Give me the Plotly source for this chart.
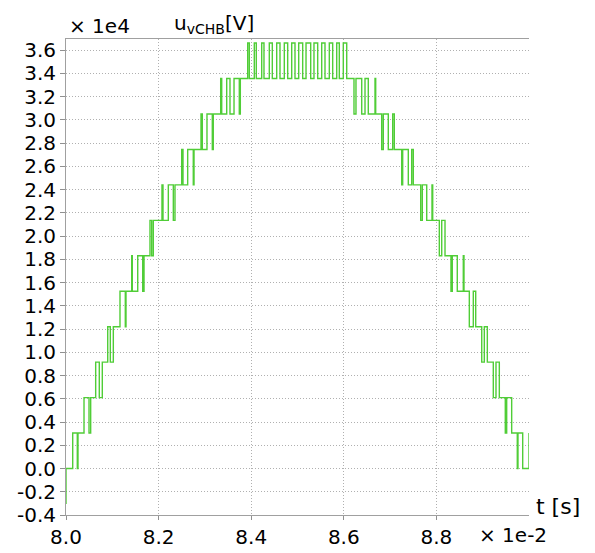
import plotly.graph_objects as go

# switching instants [ms] and inverter level index after each instant
t_ms = [80.000, 80.000, 80.145, 80.244, 80.259, 80.389, 80.497, 80.533, 80.641, 80.719,
        80.784, 80.901, 80.957, 81.022, 81.166, 81.281, 81.296, 81.419, 81.432, 81.549,
        81.657, 81.685, 81.814, 81.851, 81.886, 82.073, 82.095, 82.210, 82.318, 82.354,
        82.499, 82.527, 82.628, 82.749, 82.765, 82.916, 82.944, 83.045, 83.160, 83.181,
        83.341, 83.363, 83.471, 83.542, 83.629, 83.743, 83.765,
        83.924, 83.959, 84.067, 84.110, 84.227, 84.276, 84.391, 84.456, 84.551, 84.622,
        84.715, 84.788, 84.875, 84.946, 85.026, 85.112, 85.184, 85.285, 85.356, 85.436,
        85.523, 85.594, 85.687, 85.760, 85.847, 85.903, 85.989, 86.063,
        86.220, 86.263, 86.387, 86.458, 86.529, 86.674, 86.689, 86.819, 86.853, 86.961,
        87.056, 87.091, 87.251, 87.272, 87.393, 87.467, 87.501, 87.661, 87.696, 87.791,
        87.905, 87.920, 88.063, 88.115, 88.186, 88.315, 88.343, 88.451, 88.581, 88.596,
        88.711, 88.797, 88.849, 88.979, 89.035, 89.100, 89.229, 89.287, 89.359, 89.488,
        89.518, 89.626, 89.747, 89.762, 89.864, 90.000]
level = [-1, 0, 1, 0, 1, 2, 1, 2, 3, 2,
         3, 4, 3, 4, 5, 4, 5, 6, 5, 6,
         5, 6, 7, 6, 7, 8, 7, 8, 7, 8,
         9, 8, 9, 8, 9, 10, 9, 10, 9, 10,
         11, 10, 11, 10, 11, 10, 11,
         12, 11, 12, 11, 12, 11, 12, 11, 12, 11,
         12, 11, 12, 11, 12, 11, 12, 11, 12, 11,
         12, 11, 12, 11, 12, 11, 12, 11,
         10, 11, 10, 11, 10, 11, 10, 9, 10, 9,
         10, 9, 8, 9, 8, 9, 8, 7, 8, 7,
         8, 7, 6, 7, 6, 5, 6, 5, 6, 5,
         4, 5, 4, 3, 4, 3, 2, 3, 2, 1,
         2, 1, 0, 1, 0, 1]
cell_voltage = 3050.0  # V per level

x_ticks = [8.0, 8.2, 8.4, 8.6, 8.8]
x_labels = ["8.0", "8.2", "8.4", "8.6", "8.8"]
y_ticks = [-0.4, -0.2, 0.0, 0.2, 0.4, 0.6, 0.8, 1.0, 1.2, 1.4, 1.6, 1.8, 2.0,
           2.2, 2.4, 2.6, 2.8, 3.0, 3.2, 3.4, 3.6]
y_labels = ["%.1f" % v for v in y_ticks]

x = [t / 10.0 for t in t_ms]                 # in 1e-2 s
y = [n * cell_voltage / 1e4 for n in level]  # in 1e4 V

FONT = "DejaVu Sans"
fig = go.Figure()
fig.add_trace(go.Scatter(x=x, y=y, mode="lines", line_shape="hv",
                         line=dict(color="rgb(80,205,55)", width=1.4),
                         hoverinfo="skip", showlegend=False))

axis_common = dict(showline=True, linecolor="#a0a0a0", linewidth=1,
                   showgrid=True, gridcolor="#b0b0b0", griddash="1px,2px", gridwidth=1,
                   zeroline=False, ticks="outside", tickcolor="#909090",
                   automargin=False,
                   tickfont=dict(family=FONT, size=20, color="black"))

fig.update_xaxes(range=[8.0, 9.0], tickvals=x_ticks, ticktext=x_labels,
                 ticklen=4, mirror=True, **axis_common)
fig.update_yaxes(range=[-0.4, 3.695], tickvals=y_ticks, ticktext=y_labels,
                 ticklen=5, **axis_common)

W, H = 595, 553
L, R, T, B = 66, 66, 39, 38
pw, ph = W - L - R, H - T - B

def px(xp):
    return (xp - L) / pw

def py(yp):
    return (H - B - yp) / ph

anns = [
    dict(text="× 1e4", x=px(99), y=py(26), size=20),
    dict(text="u<sub>vCHB</sub>[V]", x=px(214), y=py(24), size=20),
    dict(text="t [s]", x=px(558), y=py(506), size=22),
    dict(text="× 1e-2", x=px(513), y=py(535), size=20),
]
for a in anns:
    fig.add_annotation(text=a["text"], x=a["x"], y=a["y"], xref="paper", yref="paper",
                       xanchor="center", yanchor="middle", showarrow=False,
                       font=dict(family=FONT, size=a["size"], color="black"))

fig.update_layout(width=W, height=H, margin=dict(l=L, r=R, t=T, b=B, pad=0, autoexpand=False),
                  paper_bgcolor="white", plot_bgcolor="white",
                  font=dict(family=FONT, color="black"))

fig.write_html("out.html", config={"displayModeBar": False},
               post_script="document.body.style.margin='0px';document.body.style.overflow='hidden';")
